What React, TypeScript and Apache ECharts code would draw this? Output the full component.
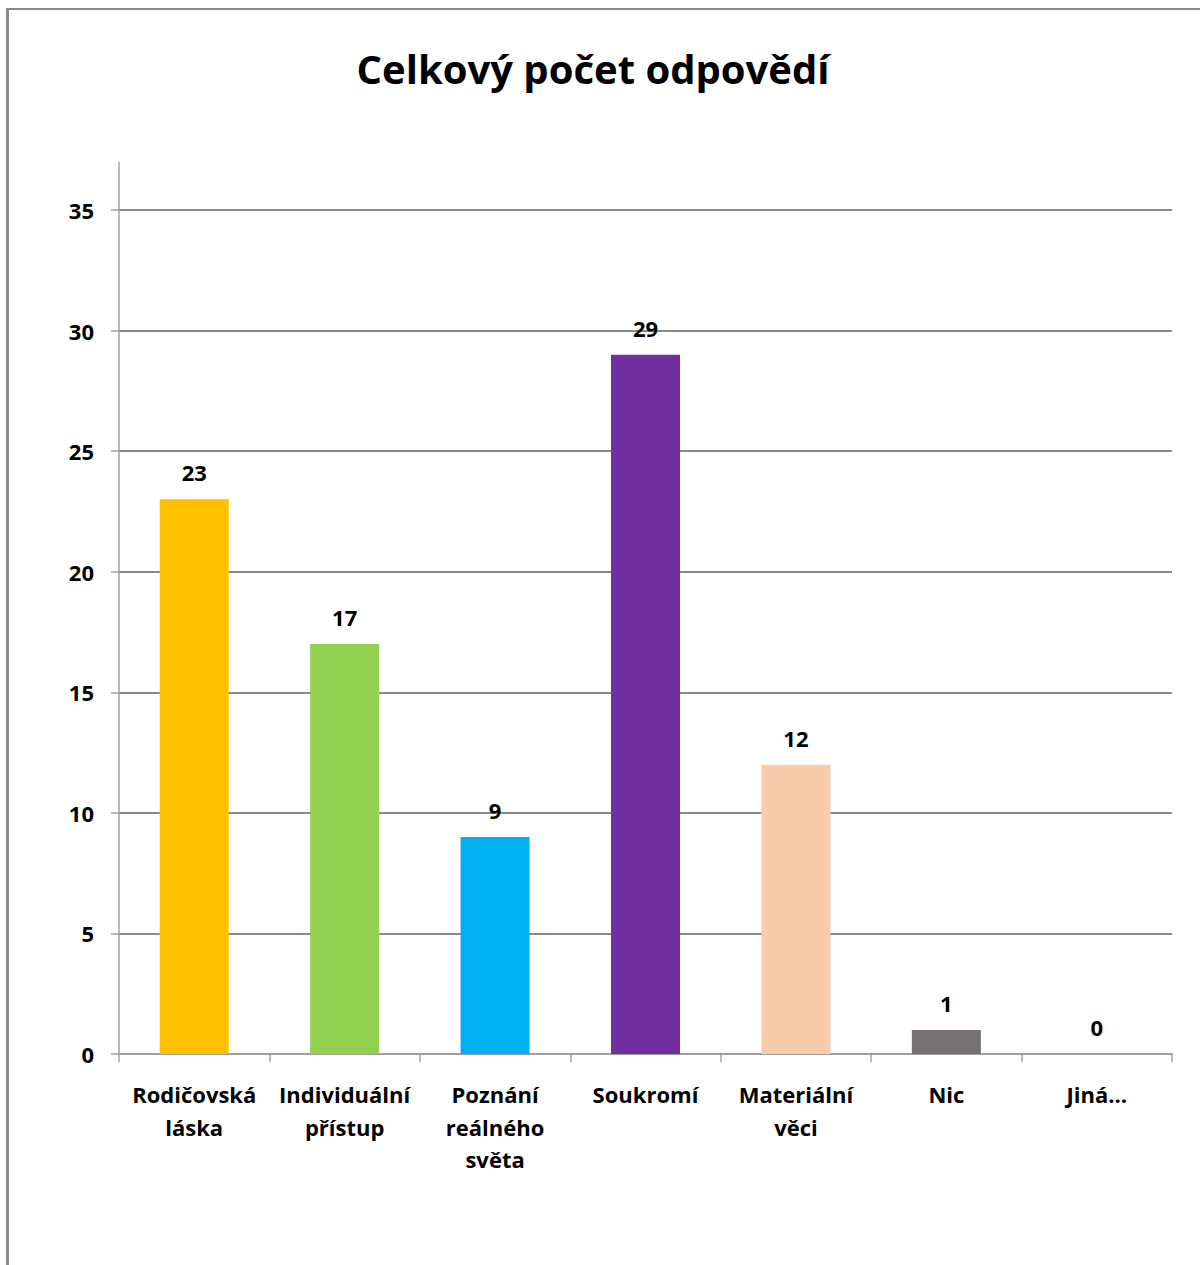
import React, { useEffect, useRef } from "react";
import * as echarts from "echarts";

const title = "Celkový počet odpovědí";
const categories = [
  "Rodičovská láska",
  "Individuální přístup",
  "Poznání reálného světa",
  "Soukromí",
  "Materiální věci",
  "Nic",
  "Jiná…",
];
const categoryLabels = [
  "Rodičovská\nláska",
  "Individuální\npřístup",
  "Poznání\nreálného\nsvěta",
  "Soukromí",
  "Materiální\nvěci",
  "Nic",
  "Jiná…",
];
const values = [23, 17, 9, 29, 12, 1, 0];
const barColors = ["#FFC000", "#92D050", "#00B0F0", "#7030A0", "#F8CBAD", "#767171", "#A5A5A5"];
const yTicks = { min: 0, max: 35, interval: 5 };

const FONT = "Open Sans";

export default function App() {
  const ref = useRef<HTMLDivElement>(null);
  useEffect(() => {
    if (!ref.current) return;
    const chart = echarts.init(ref.current, undefined, { renderer: "svg" });
    chart.setOption({
      animation: false,
      backgroundColor: "#ffffff",
      title: {
        text: title,
        left: 588,
        textAlign: "center",
        top: 43,
        textStyle: { fontFamily: FONT, fontWeight: "bold", fontSize: 40, color: "#000" },
      },
      grid: { left: 119, right: 28, top: 210, bottom: 211, containLabel: false },
      xAxis: {
        type: "category",
        data: categories,
        boundaryGap: true,
        axisLine: { show: true, lineStyle: { color: "#A0A0A0", width: 2 } },
        axisTick: { show: true, alignWithLabel: false, length: 8, lineStyle: { color: "#A0A0A0", width: 1.5 } },
        axisLabel: {
          interval: 0,
          margin: 24,
          fontFamily: FONT,
          fontWeight: "bold",
          fontSize: 22,
          color: "#000",
          lineHeight: 32.5,
          verticalAlign: "top",
          formatter: (_v: string, i: number) => categoryLabels[i],
        },
      },
      yAxis: {
        type: "value",
        min: yTicks.min,
        max: yTicks.max,
        interval: yTicks.interval,
        axisLine: { show: true, lineStyle: { color: "#A0A0A0", width: 1.5 } },
        axisTick: { show: true, length: 8, lineStyle: { color: "#A0A0A0", width: 1.5 } },
        axisLabel: { margin: 25, fontFamily: FONT, fontWeight: "bold", fontSize: 22, color: "#000" },
        splitLine: { show: true, lineStyle: { color: "#8A8A8A", width: 2 } },
      },
      graphic: [
        { type: "line", shape: { x1: 7.5, y1: 8, x2: 7.5, y2: 1265 }, style: { stroke: "#8A8A8A", lineWidth: 3 } },
        { type: "line", shape: { x1: 6, y1: 9, x2: 1200, y2: 9 }, style: { stroke: "#8A8A8A", lineWidth: 2 } },
        { type: "line", shape: { x1: 119, y1: 162, x2: 119, y2: 210 }, style: { stroke: "#A0A0A0", lineWidth: 1.5 } },
      ],
      series: [
        {
          type: "bar",
          data: values.map((v, i) => ({ value: v, itemStyle: { color: barColors[i] } })),
          barWidth: 69,
          label: {
            show: true,
            position: "top",
            distance: 16,
            fontFamily: FONT,
            fontWeight: "bold",
            fontSize: 22,
            color: "#000",
          },
        },
      ],
    });
    return () => chart.dispose();
  }, []);
  return (
    <div
      ref={ref}
      style={{ position: "absolute", left: 0, top: 0, width: 1200, height: 1265 }}
    />
  );
}
